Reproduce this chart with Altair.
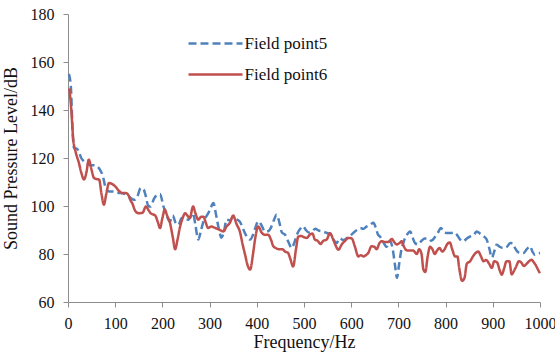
import altair as alt
import pandas as pd

hz5 = [2, 6, 10, 13, 18, 23, 28, 34, 41, 48, 55, 62, 68, 73, 80, 87, 94, 103, 112, 120, 129, 135, 140, 147, 154, 160, 165, 170, 175, 182, 188, 195, 202, 209, 216, 222, 228, 234, 241, 248, 255, 260, 265, 270, 276, 282, 287, 294, 300, 308, 314, 320, 325, 330, 336, 343, 350, 357, 364, 372, 378, 386, 392, 397, 403, 410, 417, 424, 430, 436, 442, 448, 453, 460, 467, 474, 480, 486, 492, 498, 504, 510, 517, 524, 531, 538, 545, 552, 557, 564, 569, 576, 583, 590, 597, 604, 612, 619, 626, 633, 640, 647, 652, 657, 661, 668, 675, 682, 688, 693, 697, 701, 706, 711, 718, 725, 730, 735, 742, 749, 756, 763, 770, 777, 784, 790, 797, 804, 811, 818, 824, 831, 838, 845, 852, 860, 866, 873, 880, 887, 893, 898, 903, 908, 915, 922, 930, 937, 942, 947, 953, 959, 965, 972, 979, 984, 989, 995, 1000]
db5 = [155, 150, 130, 124, 124, 122.7, 120, 118.6, 117.5, 117, 117, 116.5, 115, 113, 107.5, 106, 106, 105.5, 105.4, 105, 104, 103, 102.6, 104, 107.5, 107, 104, 100, 99.8, 103, 104.5, 105, 100, 96, 93.6, 96, 93, 92.2, 95, 94.5, 94.3, 95.5, 97, 92, 86, 90, 93.6, 96, 98, 101.2, 96, 90, 86.8, 89, 94.3, 94, 95.5, 94.5, 93.5, 90, 87.5, 86, 88, 91, 93.6, 92, 89.4, 89.5, 91, 94, 96.4, 93, 89, 88, 85, 82.5, 85, 88.5, 90.5, 91.5, 90, 89, 89.5, 90.5, 89.8, 89.5, 89, 88.5, 88, 85.5, 84.6, 86.5, 85.8, 86.5, 87.5, 88.7, 90, 90.8, 90.5, 91.5, 92.2, 93, 91, 88, 87.3, 85, 83, 85.5, 82, 75, 70, 75, 81.5, 85, 88, 89.4, 87, 84.6, 84, 85.5, 86.5, 86.5, 85.5, 87, 89, 90.8, 89, 88.7, 88.7, 89, 88, 86, 85.3, 86.5, 87.3, 88, 89.4, 88.5, 87.5, 86, 82, 78.5, 81, 83.9, 83, 82.5, 83, 84.6, 84.5, 82.5, 80.8, 80.4, 80.4, 82, 83.2, 81, 79.7, 80.2, 80.4]

hz6 = [3, 7, 11, 16, 23, 28, 34, 39, 44, 50, 55, 61, 66, 71, 76, 81, 87, 93, 100, 107, 115, 122, 128, 132, 136, 143, 150, 158, 165, 170, 175, 180, 185, 190, 195, 200, 205, 210, 216, 222, 227, 232, 237, 243, 248, 253, 258, 265, 270, 276, 282, 287, 292, 297, 304, 310, 316, 322, 329, 336, 343, 350, 357, 364, 370, 376, 381, 386, 392, 397, 403, 410, 417, 424, 430, 435, 440, 447, 454, 460, 466, 471, 477, 483, 488, 494, 500, 506, 512, 518, 523, 529, 535, 541, 548, 555, 561, 566, 573, 580, 587, 594, 601, 608, 615, 620, 626, 631, 636, 643, 649, 654, 660, 665, 672, 679, 686, 691, 696, 702, 707, 712, 718, 725, 731, 739, 744, 749, 753, 757, 762, 767, 772, 777, 782, 787, 793, 798, 803, 809, 814, 820, 825, 829, 835, 840, 845, 852, 858, 864, 869, 875, 880, 886, 892, 898, 903, 909, 915, 919, 924, 929, 935, 940, 945, 950, 955, 960, 966, 972, 977, 982, 987, 992, 997, 1000]
db6 = [149, 140, 128, 122.7, 118, 114, 111, 114, 119.3, 115, 111.7, 111.2, 111, 105, 100.5, 105, 109.6, 109.2, 108.2, 106.5, 105.4, 105.4, 104.5, 102.5, 101.2, 97.8, 97, 97.2, 99.8, 98.5, 97, 96.5, 96, 93.5, 90.8, 95, 98.5, 96, 93, 87, 82, 86, 91, 95, 97, 96, 95, 99.8, 97, 94.3, 95.5, 95.5, 93, 90.8, 91.5, 91, 90.5, 90, 89.4, 91.5, 93, 96, 92.5, 89.4, 84, 79, 75, 73.5, 80, 87, 91.5, 89, 88, 88, 86, 83.2, 82.5, 82, 82, 81, 80.5, 78, 74.8, 82, 87.3, 87.5, 87, 86.7, 88, 88.5, 86, 85.5, 84.2, 85.5, 86, 88.7, 86.5, 84, 81.8, 84, 85.5, 86.7, 86.5, 83, 79, 79.5, 79, 79.5, 80.4, 83.2, 83, 82, 84.6, 85.3, 85, 85, 86.3, 85, 84, 84.5, 85.3, 83, 81.5, 81.5, 81.5, 80, 82, 80, 73.5, 72.5, 79, 83, 82, 80, 81.5, 82.5, 81, 82, 84, 84.8, 82, 79, 79, 74, 68.8, 70, 76, 77, 79, 80.5, 81, 79, 77, 77.5, 76, 74.2, 77, 76.5, 73, 71.4, 74, 77, 77, 71.5, 73, 75, 77, 76.5, 75, 76, 77, 77.6, 76.5, 75, 73, 72]

series_names = ["Field point5", "Field point6"]
colors = ["#4F81BD", "#C0504D"]
dashes = [[8, 4], [1, 0]]

df = pd.concat([
    pd.DataFrame({"f": hz5, "spl": db5, "s": series_names[0]}),
    pd.DataFrame({"f": hz6, "spl": db6, "s": series_names[1]}),
])

font = "Liberation Serif"

legend = alt.Legend(
    title=None, orient="none", legendX=132.5, legendY=14.5,
    symbolType="M-2,0H2", symbolSize=729, symbolStrokeWidth=2.5,
    labelFont=font, labelFontSize=17, labelColor="#111", rowPadding=8,
    labelOffset=14, padding=0,
)

chart = alt.Chart(df).mark_line(strokeWidth=2.5, interpolate="monotone").encode(
    x=alt.X("f:Q", title="Frequency/Hz",
            scale=alt.Scale(domain=[0, 1000], nice=False),
            axis=alt.Axis(values=list(range(0, 1001, 100)), grid=False, format="d",
                          labelFont=font, titleFont=font,
                          labelFlush=False, labelOverlap=False)),
    y=alt.Y("spl:Q", title="Sound Pressure Level/dB",
            scale=alt.Scale(domain=[60, 180], nice=False),
            axis=alt.Axis(values=list(range(60, 181, 20)), grid=False, format="d",
                          labelFont=font, titleFont=font)),
    color=alt.Color("s:N", scale=alt.Scale(domain=series_names, range=colors), legend=legend),
    strokeDash=alt.StrokeDash("s:N", scale=alt.Scale(domain=series_names, range=dashes), legend=legend),
).properties(
    width=472, height=288,
    autosize=alt.AutoSizeParams(type="none"),
    padding={"left": 68, "top": 14, "right": 15, "bottom": 55},
).configure(font=font).configure_view(stroke=None).configure_axis(
    domainColor="#8c8c8c", tickColor="#8c8c8c", tickSize=5,
    labelFont=font, labelFontSize=16, labelColor="#111",
    titleFont=font, titleFontSize=18, titleFontWeight="normal", titleColor="#111",
).configure_axisX(labelPadding=8, titlePadding=2).configure_axisY(
    labelPadding=9, titlePadding=10
)

chart.save("out.html", embed_options={"renderer": "svg", "actions": False})
